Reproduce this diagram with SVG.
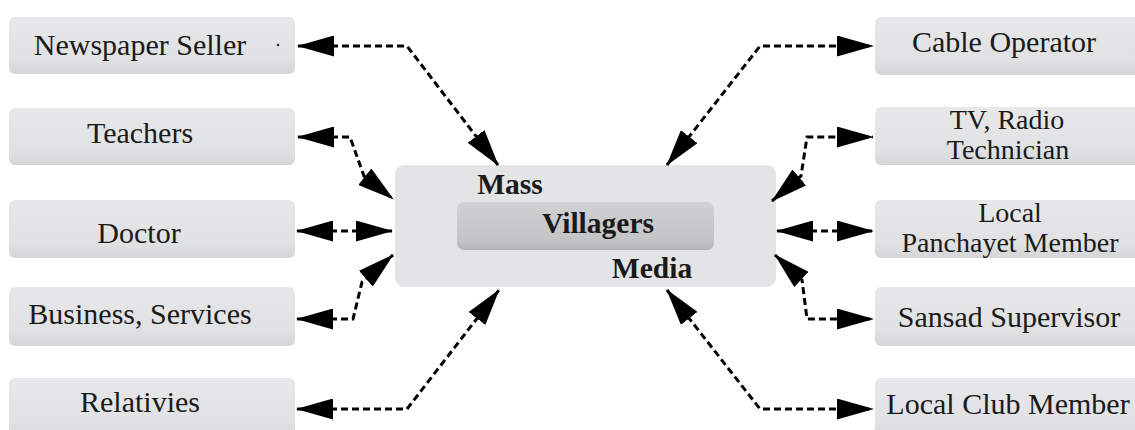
<svg xmlns="http://www.w3.org/2000/svg" width="1135" height="430" viewBox="0 0 1135 430">
<style>
.box{fill:url(#boxg);}
.lbl{font-family:"Liberation Serif","Times New Roman",serif;font-size:30px;fill:#1a1a1a;text-anchor:middle;}
.two{font-size:28px;}
.ctr{font-family:"Liberation Serif","Times New Roman",serif;font-size:29.5px;font-weight:bold;fill:#1a1a1a;text-anchor:middle;}
.con{fill:none;stroke:#000;stroke-width:3;stroke-dasharray:7 4;marker-start:url(#ah);marker-end:url(#ah);}
</style>
<defs>
<linearGradient id="boxg" x1="0" y1="0" x2="0" y2="1">
<stop offset="0" stop-color="#e8e8ea"/>
<stop offset="0.75" stop-color="#e0e1e3"/>
<stop offset="1" stop-color="#d4d5d7"/>
</linearGradient>
<linearGradient id="inner" x1="0" y1="0" x2="0" y2="1">
<stop offset="0" stop-color="#d0d1d3"/>
<stop offset="0.8" stop-color="#c3c4c6"/>
<stop offset="1" stop-color="#b3b4b6"/>
</linearGradient>
<marker id="ah" viewBox="0 0 37 21" markerUnits="userSpaceOnUse" markerWidth="37" markerHeight="21" refX="36" refY="10.5" orient="auto-start-reverse">
<path d="M0,0 L37,10.5 L0,21 Z" fill="#000"/>
</marker>
</defs>
<rect width="1135" height="430" fill="#fff"/>

<g id="center">
<rect x="395" y="165" width="381" height="122" rx="9" fill="#e3e4e6"/>
<rect x="457" y="202" width="257" height="48" rx="7" fill="url(#inner)"/>
<text class="ctr" x="510" y="194">Mass</text>
<text class="ctr" x="598" y="233">Villagers</text>
<text class="ctr" x="652" y="278">Media</text>
</g>

<g id="newspaper-seller">
<rect class="box" x="9" y="17" width="286" height="57" rx="6"/>
<text class="lbl" x="140" y="55">Newspaper Seller</text>
<circle cx="278" cy="45" r="1.3" fill="#333"/>
</g>
<g id="teachers">
<rect class="box" x="9" y="108" width="286" height="57" rx="6"/>
<text class="lbl" x="140" y="143">Teachers</text>
</g>
<g id="doctor">
<rect class="box" x="9" y="200" width="286" height="58" rx="6"/>
<text class="lbl" x="139" y="243">Doctor</text>
</g>
<g id="business-services">
<rect class="box" x="9" y="287" width="286" height="59" rx="6"/>
<text class="lbl" x="140" y="324">Business, Services</text>
</g>
<g id="relativies">
<rect class="box" x="9" y="378" width="286" height="60" rx="6"/>
<text class="lbl" x="140" y="412">Relativies</text>
</g>

<g id="cable-operator">
<rect class="box" x="875" y="17" width="275" height="58" rx="6"/>
<text class="lbl" x="1004" y="52">Cable Operator</text>
</g>
<g id="tv-radio-technician">
<rect class="box" x="875" y="107" width="275" height="58" rx="6"/>
<text class="lbl two"><tspan x="1007" y="129">TV, Radio</tspan><tspan x="1008" y="159">Technician</tspan></text>
</g>
<g id="local-panchayet-member">
<rect class="box" x="875" y="200" width="275" height="58" rx="6"/>
<text class="lbl two"><tspan x="1010" y="222">Local</tspan><tspan x="1010" y="252">Panchayet Member</tspan></text>
</g>
<g id="sansad-supervisor">
<rect class="box" x="875" y="287" width="275" height="59" rx="6"/>
<text class="lbl" x="1009" y="327">Sansad Supervisor</text>
</g>
<g id="local-club-member">
<rect class="box" x="875" y="378" width="275" height="60" rx="6"/>
<text class="lbl" x="1008" y="414">Local Club Member</text>
</g>

<g id="connectors">
<path class="con" d="M298 46 H407 L498 165"/>
<path class="con" d="M298 137 H350 L364 176 L393 199"/>
<path class="con" d="M297 231 H392"/>
<path class="con" d="M297 319 H353 L362 282 L393 255"/>
<path class="con" d="M297 409 H407 L499 290"/>
<path class="con" d="M667 165 L760 46 H873"/>
<path class="con" d="M772 201 L801 176 L807 137 H873"/>
<path class="con" d="M777 231 H873"/>
<path class="con" d="M775 255 L802 280 L807 319 H873"/>
<path class="con" d="M667 290 L760 409 H873"/>
</g>
</svg>
